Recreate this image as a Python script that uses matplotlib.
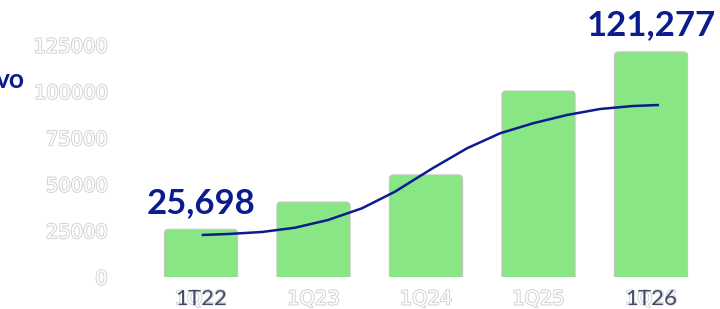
import numpy as np
import matplotlib
matplotlib.use("Agg")
import matplotlib.pyplot as plt
import matplotlib.patheffects as pe
from matplotlib.patches import FancyBboxPatch

categories = ["1Q22", "1Q23", "1Q24", "1Q25", "1Q26"]
values = [25698, 40400, 55000, 100200, 121277]
overlay_labels = {0: "1T22", 4: "1T26"}
value_labels = {0: "25,698", 4: "121,277"}
yticks = [0, 25000, 50000, 75000, 100000, 125000]

# trend line
line_x = [0.006, 0.24, 0.542, 0.836, 1.129, 1.431, 1.724, 1.902, 2.062,
          2.364, 2.658, 2.951, 3.253, 3.547, 3.84, 4.071]
line_y = [22630, 23170, 24250, 26560, 30710, 37020, 45960, 52700, 58700,
          69340, 77430, 82820, 87290, 90520, 92130, 92680]

green = "#88e684"
navy = "#0b1d8e"
slate = "#3f4c6b"
outline = [pe.Stroke(linewidth=1.4, foreground="#d2d2d2"), pe.Normal()]

fig = plt.figure(figsize=(7.2, 3.09), dpi=100)
ax = fig.add_axes([120 / 720, 1 - 277 / 309, 600 / 720, 232 / 309])

x = np.arange(len(categories))
bars = ax.bar(x, values, width=0.65, color=green)
# swap plain bars for ones with rounded tops
px_x = 1 / 112.5
px_y = 25000 / 46.4
for b in bars:
    b.set_visible(False)
    p = FancyBboxPatch((b.get_x(), -3000), b.get_width(), b.get_height() + 3000,
                       boxstyle="round,pad=0,rounding_size=%f" % (4 * px_x),
                       mutation_aspect=px_y / px_x,
                       facecolor=green, edgecolor="#c4c4c4", linewidth=0.8)
    ax.add_patch(p)

ax.plot(line_x, line_y, color=navy, linewidth=1.8, solid_capstyle="butt",
        solid_joinstyle="round", zorder=3)

for i, txt in value_labels.items():
    ax.annotate(txt, (x[i], values[i]), xytext=(0, 12), textcoords="offset points",
                ha="center", va="baseline", fontsize=25, fontweight="bold",
                family="Lato", color=navy)

ax.set_xlim(-0.72, 4.613)
ax.set_ylim(0, 125000)
ax.set_yticks(yticks)
ax.set_yticklabels([str(v) for v in yticks])
ax.set_xticks(x)
ax.set_xticklabels(categories)
ax.tick_params(length=0)
ax.tick_params(axis="y", pad=9)
ax.tick_params(axis="x", pad=9)
for t in ax.get_yticklabels() + ax.get_xticklabels():
    t.set_fontsize(14)
    t.set_color("white")
    t.set_path_effects(outline)
for s in ax.spines.values():
    s.set_visible(False)

for i, txt in overlay_labels.items():
    ax.annotate(txt, (x[i], 0), xytext=(0, -16), textcoords="offset points",
                ha="center", va="center", fontsize=16, family="Lato", color=slate)

fig.text(25 / 720, 1 - 88 / 309, "vo", ha="right", va="baseline",
         fontsize=19, fontweight="bold", family="Lato", color=navy)

fig.savefig("out.png", dpi=100)
